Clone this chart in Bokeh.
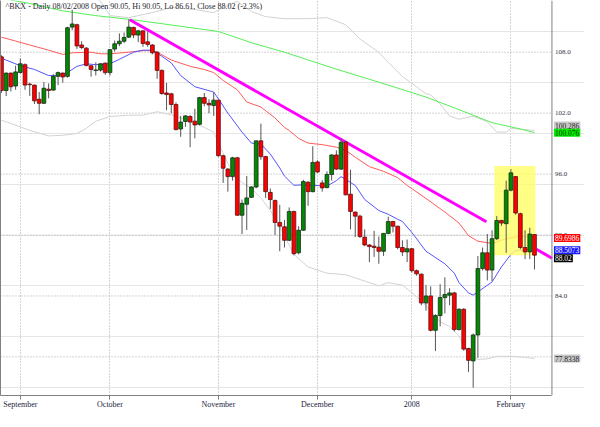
from bokeh.plotting import figure
from bokeh.models import Range1d, LinearAxis, FixedTicker, Label, ColumnDataSource, Span
from bokeh.embed import file_html
from bokeh.resources import INLINE
from bokeh.core.properties import value

title_text = "^BKX - Daily 08/02/2008 Open 90.05, Hi 90.05, Lo 86.61, Close 88.02 (-2.3%)"

# ---- daily candles (trading-day index 0 = 28 Aug 2007 ... 113 = 8 Feb 2008)
opens = [107.54, 104.23, 105.94, 104.67, 106.00, 106.77, 104.85, 104.76, 103.37, 102.97,
         104.36, 104.27, 105.62, 105.94, 105.62, 110.47, 110.71, 108.71, 108.40, 106.67,
         106.20, 106.24, 106.92, 105.99, 108.31, 108.83, 109.08, 109.48, 110.44, 109.69,
         110.10, 109.02, 108.71, 108.00, 106.21, 103.99, 103.90, 102.85, 100.44, 101.18,
         101.67, 101.21, 100.90, 103.53, 102.97, 102.75, 103.28, 97.81, 96.49, 95.75,
         97.60, 91.95, 93.03, 93.71, 94.73, 99.27, 97.72, 94.20, 93.40, 91.24,
         90.81, 89.48, 92.32, 88.25, 90.47, 95.20, 94.27, 97.20, 95.13, 94.67,
         95.96, 97.88, 96.49, 99.14, 94.02, 92.26, 91.86, 89.79, 89.02, 88.90,
         88.80, 88.40, 90.16, 91.33, 90.87, 88.77, 88.34, 88.65, 86.49, 86.15,
         83.31, 84.00, 80.62, 82.07, 83.84, 84.08, 84.30, 80.69, 82.69, 78.83,
         77.60, 80.16, 86.70, 88.25, 86.55, 89.64, 91.43, 91.12, 94.42, 95.75,
         92.10, 88.77, 88.34, 90.05]
highs = [107.70, 106.00, 106.00, 106.67, 107.38, 106.90, 105.00, 104.80, 104.08, 105.07,
         104.92, 105.84, 106.10, 106.00, 110.50, 112.17, 110.80, 109.08, 108.50, 106.70,
         107.00, 106.90, 107.00, 108.30, 109.14, 109.85, 109.94, 111.24, 110.50, 110.20,
         110.15, 110.06, 108.80, 108.10, 106.30, 104.98, 104.00, 103.06, 101.73, 101.80,
         101.80, 102.44, 103.60, 103.99, 103.37, 104.05, 103.30, 97.90, 96.60, 97.70,
         97.70, 93.49, 95.81, 94.80, 99.30, 100.96, 97.80, 94.57, 93.50, 92.97,
         91.49, 92.72, 92.40, 90.87, 95.44, 95.30, 98.74, 97.35, 95.41, 96.27,
         97.95, 98.34, 99.51, 99.30, 96.43, 92.30, 92.00, 90.56, 89.10, 90.41,
         89.85, 90.20, 91.80, 91.40, 90.90, 89.48, 89.55, 88.70, 86.60, 86.20,
         85.07, 84.94, 82.20, 85.16, 85.84, 84.76, 84.40, 82.80, 82.80, 78.90,
         80.30, 87.94, 88.77, 90.10, 90.47, 91.86, 91.50, 95.35, 96.49, 95.80,
         92.20, 90.47, 90.72, 90.05]
lows = [104.00, 103.68, 104.14, 104.30, 105.90, 104.30, 103.70, 102.90, 101.89, 102.90,
        103.46, 104.20, 104.76, 105.00, 105.50, 110.16, 108.31, 108.30, 106.60, 105.59,
        105.70, 106.10, 105.78, 105.69, 108.06, 108.60, 108.90, 109.40, 109.39, 108.99,
        108.53, 108.53, 107.80, 105.38, 103.80, 102.29, 101.98, 100.30, 99.67, 100.65,
        98.65, 99.51, 100.80, 102.69, 101.98, 101.73, 97.70, 95.13, 94.27, 95.35,
        91.90, 90.10, 90.50, 93.65, 94.60, 97.41, 93.65, 92.57, 90.01, 88.40,
        88.77, 89.40, 88.00, 88.10, 90.40, 92.88, 94.20, 96.10, 94.27, 94.60,
        95.35, 96.40, 96.40, 93.90, 90.56, 89.79, 89.70, 88.90, 87.33, 87.85,
        87.17, 87.94, 90.10, 90.25, 88.60, 87.94, 87.33, 86.30, 86.00, 83.09,
        82.54, 80.50, 78.58, 81.00, 82.29, 83.09, 80.50, 80.60, 78.60, 76.52,
        74.97, 77.91, 86.50, 85.53, 85.47, 89.50, 90.90, 88.25, 94.30, 92.00,
        88.60, 87.63, 87.63, 86.61]
closes = [104.23, 105.94, 104.60, 106.06, 106.86, 104.76, 104.80, 103.21, 102.97, 104.45,
          104.23, 105.62, 105.99, 105.56, 110.41, 110.78, 108.62, 108.46, 106.70, 106.30,
          106.25, 106.86, 105.99, 108.25, 108.83, 109.08, 109.45, 110.47, 109.69, 110.10,
          108.86, 108.77, 107.94, 106.21, 103.93, 103.83, 102.85, 100.38, 101.12, 101.73,
          101.12, 100.84, 103.53, 102.97, 102.81, 103.28, 97.81, 96.58, 95.75, 97.60,
          91.95, 93.12, 93.65, 94.73, 99.27, 97.72, 94.27, 93.49, 91.24, 90.87,
          89.48, 92.32, 88.16, 90.47, 95.26, 94.27, 97.14, 96.21, 94.64, 95.96,
          97.88, 96.49, 99.14, 93.96, 92.32, 91.86, 89.85, 89.02, 88.86, 88.77,
          88.40, 90.16, 91.33, 90.87, 88.77, 88.34, 88.65, 86.49, 86.18, 83.31,
          84.00, 80.62, 82.07, 83.84, 84.14, 84.30, 80.69, 82.69, 78.77, 77.66,
          80.16, 86.70, 88.25, 86.55, 89.64, 91.43, 91.18, 94.42, 96.12, 92.17,
          88.77, 88.34, 90.10, 88.02]

# ---- month ticks (trading-day index of first session of the month)
month_idx = [4, 23, 46, 67, 87, 108]
month_labels = ["September", "October", "November", "December", "2008", "February"]

price_ticks = [78, 84, 90, 96, 102, 108]
price_labels = ["", "84.0", "90.0", "96.0", "102.0", "108.0"]

# ---- overlays (index, value)
ma20_idx = [0, 4, 7, 10, 12, 14, 16, 18, 20, 23, 25, 28, 30, 32, 34, 36, 38, 41, 45, 46, 48,
            51, 53, 55, 57, 59, 60, 62, 64, 69, 71, 72, 75, 77, 80, 82, 84, 85, 87, 90, 94,
            96, 97, 99, 100, 101, 104, 106, 108, 109, 111, 113]
ma20_val = [107.40, 106.67, 106.30, 105.70, 105.70, 106.00, 106.60, 106.86, 106.77, 106.86,
            107.30, 108.00, 108.20, 108.20, 107.60, 106.95, 105.70, 104.60, 104.08, 103.40,
            102.00, 100.13, 99.05, 98.96, 97.97, 96.60, 95.80, 94.90, 94.94, 94.82, 95.35,
            95.75, 94.88, 93.50, 92.41, 92.04, 91.55, 91.33, 90.25, 88.40, 87.17, 86.24,
            85.31, 84.30, 84.08, 84.40, 85.38, 86.86, 88.09, 88.46, 88.56, 88.51]

ma50_idx = [0, 3, 6, 10, 13, 15, 19, 21, 23, 27, 30, 32, 33, 36, 40, 43, 45, 47, 50, 52, 55,
            58, 60, 61, 63, 65, 68, 71, 73, 75, 78, 81, 84, 86, 87, 90, 94, 97, 99, 101, 104,
            107, 110, 113]
ma50_val = [109.48, 109.10, 108.71, 108.20, 107.78, 107.94, 108.00, 107.84, 107.84, 108.00,
            108.15, 108.15, 108.00, 107.23, 106.61, 106.30, 105.99, 105.22, 104.30, 103.10,
            102.60, 101.52, 100.60, 100.29, 99.51, 99.05, 98.90, 98.65, 98.34, 97.66, 96.73,
            96.27, 95.65, 94.88, 94.57, 93.60, 92.26, 91.18, 89.94, 89.39, 89.17, 89.64,
            89.90, 89.70]

ma200_idx = [0, 6, 13, 20, 27, 30, 46, 53, 60, 71, 82, 90, 97, 104, 110, 113]
ma200_val = [113.30, 112.80, 112.07, 111.60, 111.24, 111.06, 110.04, 108.93, 108.00, 106.33,
             104.76, 103.58, 102.35, 101.06, 100.44, 100.08]

bb_up_idx = [18, 21, 23, 27, 32, 36, 41, 45, 48, 50, 53, 56, 60, 65, 69, 73, 76, 80, 82, 85,
             88, 90, 91, 93, 95, 97, 100, 103, 105, 107, 108, 113]
bb_up_val = [113.80, 113.00, 111.60, 111.40, 111.90, 112.40, 112.20, 111.90, 112.60, 113.00,
             112.00, 111.50, 111.30, 111.30, 111.40, 110.70, 109.30, 108.00, 107.00, 105.60,
             104.60, 103.90, 103.80, 102.90, 101.70, 101.40, 101.70, 101.15, 100.13, 100.13,
             100.50, 100.29]

bb_lo_idx = [0, 2, 6, 10, 13, 16, 18, 20, 23, 27, 30, 33, 36, 40, 43, 45, 46, 48, 50, 53, 55,
             57, 59, 62, 65, 69, 73, 76, 80, 82, 85, 88, 90, 93, 95, 97, 99, 101, 103, 105,
             108, 111, 113]
bb_lo_val = [101.30, 100.99, 100.30, 99.76, 99.82, 100.00, 100.50, 101.20, 101.67, 101.80,
             101.80, 102.14, 101.83, 101.21, 100.59, 100.13, 99.05, 97.05, 95.50, 94.57,
             93.65, 92.41, 90.80, 88.09, 86.86, 86.24, 86.09, 85.62, 85.00, 85.31, 85.07,
             83.93, 83.00, 81.45, 80.99, 80.06, 78.21, 77.75, 77.81, 78.06, 78.06, 77.97,
             77.83]

trend_a_idx = [27.2, 102.8]
trend_a_val = [111.20, 91.30]
trend_b_idx = [113.4, 116.7]
trend_b_val = [88.60, 87.72]

highlight_idx = [104.5, 113.2]
highlight_val = [88.0, 96.8]

value_tags = [100.286, 100.076, 89.6986, 88.5073, 88.02, 77.8338]
value_tag_text = ["100.286", "100.076", "89.6986", "88.5073", "88.02", "77.8338"]
value_tag_bg = ["#c8c8c8", "#00ee00", "#ff0000", "#1a1aff", "#000000", "#c8c8c8"]
value_tag_fg = ["#222222", "#003300", "#ffffff", "#ffffff", "#ffffff", "#222222"]
value_tag_nudge = [5, 0, 0, 0, -3, 0]

# ---------------------------------------------------------------------------
X0, X1, X_END = -0.2, 116.7, 123.6     # X1 = right border of the price pane
Y0, Y1 = 74.2, 113.09
SERIF = "Liberation Serif"
GRID = "#a8a8a8"
FRAME = "#808080"

p = figure(width=584, height=411, x_range=Range1d(X0, X_END), y_range=Range1d(Y0, Y1),
           output_backend="svg", toolbar_location=None, y_axis_location=None,
           min_border_left=0, min_border_top=0, min_border_right=0, min_border_bottom=6)
p.background_fill_color = "white"
p.border_fill_color = "white"
p.outline_line_color = None

xa = p.xaxis[0]
xa.ticker = FixedTicker(ticks=month_idx)
xa.bounds = (X0, X1)
xa.major_label_overrides = {i: t for i, t in zip(month_idx, month_labels)}
xa.major_label_text_align = "left"
xa.major_label_text_font = SERIF
xa.major_label_text_font_size = "8px"
xa.major_label_text_color = "#1c1c3c"
xa.major_label_standoff = 0
xa.major_tick_in = 0
xa.major_tick_out = 4
xa.minor_tick_out = 0
xa.minor_tick_in = 0
xa.axis_line_color = FRAME
xa.major_tick_line_color = FRAME

la = LinearAxis(ticker=FixedTicker(ticks=[]), major_label_text_font_size="0px",
                major_tick_out=0, minor_tick_out=0, axis_line_color=FRAME,
                major_label_standoff=0)
p.add_layout(la, "left")

xg = p.xgrid[0]
xg.grid_line_color = GRID
xg.grid_line_dash = "1 2"
xg.bounds = (X0, X1)

# horizontal price grid, limited to the price pane
p.segment(x0=[X0] * len(price_ticks), x1=[X1] * len(price_ticks), y0=price_ticks,
          y1=price_ticks, line_color=GRID, line_dash="1 2", line_width=1)

# right border of the pane
p.add_layout(Span(location=X1, dimension="height", line_color=FRAME, line_width=1))

# bands and averages
p.line(bb_up_idx, bb_up_val, line_color="#d2d2d2", line_width=1)
p.line(bb_lo_idx, bb_lo_val, line_color="#d2d2d2", line_width=1)
p.line(ma200_idx, ma200_val, line_color="#55ee55", line_width=1)
p.line(ma50_idx, ma50_val, line_color="#ff5a5a", line_width=1)
p.line(ma20_idx, ma20_val, line_color="#5555ff", line_width=1)
p.line(trend_a_idx, trend_a_val, line_color="#ff00ff", line_width=3)
p.line(trend_b_idx, trend_b_val, line_color="#ff00ff", line_width=3)

# highlight box (over lines, under candles)
p.quad(left=[highlight_idx[0]], right=[highlight_idx[1]], bottom=[highlight_val[0]],
       top=[highlight_val[1]], fill_color="#ffff66", fill_alpha=0.8, line_color=None)

# candles
n = len(closes)
idx = list(range(n))
up = [i for i in idx if closes[i] >= opens[i]]
dn = [i for i in idx if closes[i] < opens[i]]
p.segment(x0=idx, y0=lows, x1=idx, y1=highs, line_color="#555555", line_width=1)
src_up = ColumnDataSource(dict(x=up, top=[closes[i] for i in up], bottom=[opens[i] for i in up]))
src_dn = ColumnDataSource(dict(x=dn, top=[opens[i] for i in dn], bottom=[closes[i] for i in dn]))
p.vbar(x="x", top="top", bottom="bottom", width=0.8, source=src_up,
       fill_color="#008a00", line_color="#1c2a1c", line_width=0.8)
p.vbar(x="x", top="top", bottom="bottom", width=0.8, source=src_dn,
       fill_color="#ff0000", line_color="#5a1010", line_width=0.8)

# price tick labels right of the pane
p.text(x=[X1] * len(price_ticks), y=price_ticks, text=price_labels, x_offset=3,
       text_baseline="middle", text_align="left", text_font=value(SERIF),
       text_font_size="7px", text_color="#333344")

# title
p.add_layout(Label(x=X0, y=Y1, x_units="data", y_units="data", text=title_text,
                   x_offset=5, y_offset=-1, text_baseline="top", text_align="left",
                   text_font=SERIF, text_font_size="8px", text_color="#1c1c2c"))

# value tags at right edge
for v, t, bg, fg, nudge in zip(value_tags, value_tag_text, value_tag_bg, value_tag_fg,
                               value_tag_nudge):
    p.add_layout(Label(x=X1, y=v, x_units="data", y_units="data", text=t,
                       x_offset=2, y_offset=nudge, text_baseline="middle", text_align="left",
                       text_font=SERIF, text_font_size="7.5px", text_color=fg,
                       background_fill_color=bg, background_fill_alpha=1.0,
                       padding=1))

open("out.html", "w").write(file_html(p, INLINE))
